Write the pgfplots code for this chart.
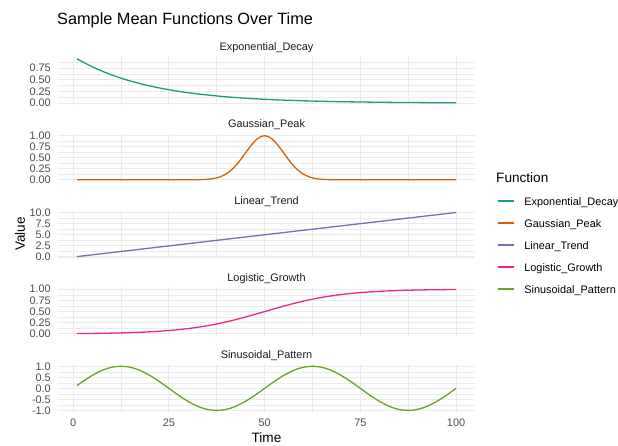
\documentclass[border=0pt]{standalone}
\usepackage{fontspec}
\setmainfont{Liberation Sans}
\usepackage{pgfplots}
\pgfplotsset{compat=1.18}

\definecolor{cExp}{HTML}{1B9E77}
\definecolor{cGau}{HTML}{D95F02}
\definecolor{cLin}{HTML}{7570B3}
\definecolor{cLog}{HTML}{E7298A}
\definecolor{cSin}{HTML}{66A61E}
\definecolor{gridgrey}{HTML}{EBEBEB}
\definecolor{tickgrey}{HTML}{4D4D4D}
\definecolor{stripgrey}{HTML}{1A1A1A}

\newcommand{\smallfont}{\fontsize{10.9pt}{13pt}\selectfont}
\newcommand{\midfont}{\fontsize{13.6pt}{16pt}\selectfont}

\pgfplotsset{
  panel/.style={
    scale only axis, width=417pt, height=48.5pt,
    anchor=south west,
    xmin=-3.95, xmax=104.95,
    xtick={0,25,50,75,100}, minor xtick={12.5,37.5,62.5,87.5},
    xticklabels={},
    grid=both,
    major grid style={draw=gridgrey, line width=1.1pt},
    minor grid style={draw=gridgrey, line width=0.55pt},
    axis line style={draw=none}, tick style={draw=none},
    major tick length=0pt, minor tick length=0pt,
    yticklabel style={font=\smallfont, text=tickgrey, anchor=east, inner sep=0pt, xshift=-7pt},
    title style={font=\smallfont, text=stripgrey, anchor=base, yshift=0pt, inner sep=0pt},
  },
  curve/.style={line width=1.3pt, no markers},
}

\begin{document}
\begin{tikzpicture}
\useasboundingbox (0,0) rectangle (618pt,445pt);

% Exponential decay
\begin{axis}[panel, at={(58pt,340pt)}, title={Exponential\_Decay},
  ymin=-0.0405, ymax=0.9982,
  ytick={0,0.25,0.5,0.75}, yticklabels={0.00,0.25,0.50,0.75},
  minor ytick={0.125,0.375,0.625,0.875}]
\addplot[curve, color=cExp, smooth] coordinates {
(1,0.951) (2.5,0.882) (5,0.779) (7.5,0.687) (10,0.607) (12.5,0.535) (15,0.472)
(17.5,0.417) (20,0.368) (22.5,0.325) (25,0.287) (27.5,0.253) (30,0.223) (35,0.174)
(40,0.135) (45,0.105) (50,0.082) (55,0.064) (60,0.050) (65,0.039) (70,0.030)
(75,0.024) (80,0.018) (85,0.014) (90,0.011) (95,0.009) (100,0.007)};
\end{axis}

% Gaussian peak
\begin{axis}[panel, at={(58pt,263pt)}, title={Gaussian\_Peak},
  ymin=-0.05, ymax=1.05,
  ytick={0,0.25,0.5,0.75,1}, yticklabels={0.00,0.25,0.50,0.75,1.00},
  minor ytick={0.125,0.375,0.625,0.875}]
\addplot[curve, color=cGau] coordinates {
(1,0) (20,0) (30,0.0003) (33,0.003) (35,0.011) (36,0.020) (37,0.034) (38,0.056)
(39,0.089) (40,0.135) (41,0.198) (42,0.278) (43,0.375) (44,0.487) (45,0.607)
(46,0.726) (47,0.835) (48,0.923) (49,0.980) (50,1.000) (51,0.980) (52,0.923)
(53,0.835) (54,0.726) (55,0.607) (56,0.487) (57,0.375) (58,0.278) (59,0.198)
(60,0.135) (61,0.089) (62,0.056) (63,0.034) (64,0.020) (65,0.011) (67,0.003)
(70,0.0003) (80,0) (100,0)};
\end{axis}

% Linear trend (carries the legend)
\begin{axis}[panel, at={(58pt,186.2pt)}, title={Linear\_Trend},
  ymin=-0.395, ymax=10.495,
  ytick={0,2.5,5,7.5,10}, yticklabels={0.0,2.5,5.0,7.5,10.0},
  minor ytick={1.25,3.75,6.25,8.75},
  legend cell align=left,
  legend image code/.code={\draw[#1, line width=1.4pt] (0pt,4.5pt) -- (16pt,4.5pt); \path (26pt,0pt);},
  legend style={at={(axis description cs:1.0528,1.26392)}, anchor=north west,
    draw=none, fill=none, inner sep=0pt, outer sep=0pt, row sep=11pt,
    font=\smallfont,
    nodes={inner sep=0pt, text height=8pt, text depth=3pt, anchor=base west}}]
\addlegendimage{curve, color=cExp}\addlegendentry{Exponential\_Decay}
\addlegendimage{curve, color=cGau}\addlegendentry{Gaussian\_Peak}
\addplot[curve, color=cLin] coordinates {(1,0.1) (100,10)};
\addlegendentry{Linear\_Trend}
\addlegendimage{curve, color=cLog}\addlegendentry{Logistic\_Growth}
\addlegendimage{curve, color=cSin}\addlegendentry{Sinusoidal\_Pattern}
\end{axis}

% Logistic growth
\begin{axis}[panel, at={(58pt,109.2pt)}, title={Logistic\_Growth},
  ymin=-0.0419, ymax=1.0426,
  ytick={0,0.25,0.5,0.75,1}, yticklabels={0.00,0.25,0.50,0.75,1.00},
  minor ytick={0.125,0.375,0.625,0.875}]
\addplot[curve, color=cLog, smooth] coordinates {
(1,0.0074) (5,0.011) (10,0.018) (15,0.029) (20,0.047) (25,0.076) (30,0.119)
(35,0.182) (40,0.269) (45,0.378) (50,0.500) (55,0.622) (60,0.731) (65,0.818)
(70,0.881) (75,0.924) (80,0.953) (85,0.971) (90,0.982) (95,0.989) (100,0.993)};
\end{axis}

% Sinusoidal pattern
\begin{axis}[panel, at={(58pt,32.4pt)}, title={Sinusoidal\_Pattern},
  ymin=-1.098, ymax=1.098,
  ytick={-1,-0.5,0,0.5,1}, yticklabels={-1.0,-0.5,0.0,0.5,1.0},
  minor ytick={-0.75,-0.25,0.25,0.75},
  xticklabels={0,25,50,75,100},
  xticklabel style={font=\smallfont, text=tickgrey, anchor=base, inner sep=0pt, yshift=-14.1pt}]
\addplot[curve, color=cSin, smooth] coordinates {
(1,0.125) (2.5,0.309) (5,0.588) (7.5,0.809) (10,0.951) (12.5,0.998) (15,0.951)
(17.5,0.809) (20,0.588) (22.5,0.309) (25,0) (27.5,-0.309) (30,-0.588) (32.5,-0.809)
(35,-0.951) (37.5,-0.998) (40,-0.951) (42.5,-0.809) (45,-0.588) (47.5,-0.309) (50,0)
(52.5,0.309) (55,0.588) (57.5,0.809) (60,0.951) (62.5,0.998) (65,0.951) (67.5,0.809)
(70,0.588) (72.5,0.309) (75,0) (77.5,-0.309) (80,-0.588) (82.5,-0.809) (85,-0.951)
(87.5,-0.998) (90,-0.951) (92.5,-0.809) (95,-0.588) (97.5,-0.309) (100,0)};
\end{axis}

% Titles and axis labels
\node[anchor=base west, inner sep=0pt, font=\fontsize{16.3pt}{19pt}\selectfont] at (57pt,420pt) {Sample Mean Functions Over Time};
\node[anchor=base, inner sep=0pt, font=\midfont] at (266.5pt,2.5pt) {Time};
\node[anchor=base, inner sep=0pt, rotate=90, font=\midfont] at (25pt,211pt) {Value};
\node[anchor=base west, inner sep=0pt, font=\midfont] at (496pt,262.3pt) {Function};
\end{tikzpicture}
\end{document}
